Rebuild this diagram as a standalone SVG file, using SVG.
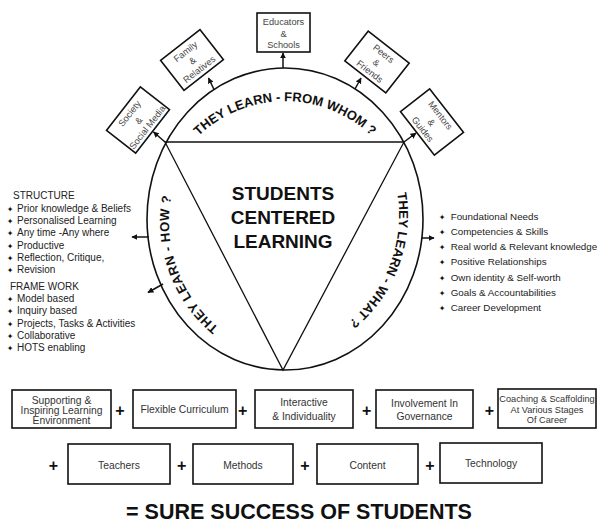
<svg xmlns="http://www.w3.org/2000/svg" width="600" height="525" viewBox="0 0 600 525">
<style>
.bx{fill:#fff;stroke:#111;stroke-width:1.6}
.tb{font-family:"Liberation Sans",Arial,sans-serif;font-size:9.2px;fill:#444;text-anchor:middle}
.arc{font-family:"Liberation Sans",Arial,sans-serif;font-weight:bold;font-size:13px;fill:#111}
.lst{font-family:"Liberation Sans",Arial,sans-serif;font-size:10px;fill:#222}
.lr{font-size:9.8px}
.bul{font-family:"DejaVu Sans",sans-serif;font-size:8px;fill:#111;text-anchor:middle}
.bt{font-family:"Liberation Sans",Arial,sans-serif;font-size:10.3px;fill:#333;text-anchor:middle}
.bs{font-size:9.2px}
.pl{font-family:"Liberation Sans",Arial,sans-serif;font-size:16px;font-weight:bold;fill:#111;text-anchor:middle}
.ln{fill:none;stroke:#111;stroke-width:1.5}
</style>
<defs>
<marker id="ah" viewBox="0 0 10 10" refX="9" refY="5" markerWidth="4" markerHeight="4" orient="auto" markerUnits="strokeWidth">
<path d="M0,0 L10,5 L0,10 z" fill="#111"/>
</marker>
<path id="arcTop" d="M 166 188 A 125 125 0 0 1 404 188"/>
<path id="arcLeft" d="M 218.8 327.7 A 137 137 0 0 1 237.5 103.4"/>
<path id="arcRight" d="M 397.3 193.1 A 139 139 0 0 1 307.5 345.6"/>
</defs>
<rect width="600" height="525" fill="#fff"/>

<g id="hub">
<ellipse cx="285" cy="219" rx="138" ry="151" fill="#fff" stroke="#111" stroke-width="1.6"/>
<polygon points="165,142 404,142 283,370" fill="none" stroke="#111" stroke-width="1.3"/>
<g font-family="'Liberation Sans',Arial,sans-serif" font-weight="bold" font-size="19" fill="#111" text-anchor="middle">
<text x="283" y="200">STUDENTS</text>
<text x="283" y="224">CENTERED</text>
<text x="283" y="248">LEARNING</text>
</g>
<text class="arc"><textPath href="#arcTop" startOffset="50%" text-anchor="middle">THEY LEARN - FROM WHOM ?</textPath></text>
<text class="arc" letter-spacing="0.5"><textPath href="#arcLeft">THEY LEARN - HOW ?</textPath></text>
<text class="arc"><textPath href="#arcRight">THEY LEARN - WHAT ?</textPath></text>
</g>

<g id="connectors">
<line class="ln" x1="283" y1="68" x2="283" y2="53" marker-end="url(#ah)"/>
<line class="ln" x1="214" y1="89.5" x2="208.5" y2="78" marker-end="url(#ah)"/>
<line class="ln" x1="355" y1="89" x2="361" y2="78" marker-end="url(#ah)"/>
<line class="ln" x1="165" y1="142" x2="153.5" y2="132" marker-end="url(#ah)"/>
<line class="ln" x1="404" y1="142" x2="416" y2="133" marker-end="url(#ah)"/>
<line class="ln" x1="149" y1="237" x2="132" y2="237" marker-end="url(#ah)"/>
<line class="ln" x1="163" y1="284" x2="148" y2="292.5" marker-end="url(#ah)"/>
<line class="ln" x1="421" y1="238" x2="434" y2="238" marker-end="url(#ah)"/>
</g>

<g id="educators" transform="translate(283.5,32.5)">
<rect class="bx" x="-26.5" y="-19.5" width="53" height="39" stroke-width="2"/>
<text class="tb" y="-7.5">Educators</text><text class="tb" y="4">&amp;</text><text class="tb" y="15">Schools</text>
</g>
<g id="family" transform="translate(192,60) rotate(-38)">
<rect class="bx" x="-25" y="-19" width="50" height="38"/>
<text class="tb" y="-7.5">Family</text><text class="tb" y="4">&amp;</text><text class="tb" y="15">Relatives</text>
</g>
<g id="peers" transform="translate(377,62) rotate(38)">
<rect class="bx" x="-26" y="-19" width="52" height="38"/>
<text class="tb" y="-7.5">Peers</text><text class="tb" y="4">&amp;</text><text class="tb" y="15">Friends</text>
</g>
<g id="mentors" transform="translate(432,122) rotate(52)">
<rect class="bx" x="-27.5" y="-18.5" width="55" height="37"/>
<text class="tb" y="-7.5">Mentors</text><text class="tb" y="4">&amp;</text><text class="tb" y="15">Guides</text>
</g>
<g id="society" transform="translate(138,120) rotate(-52)">
<rect class="bx" x="-27.5" y="-18.5" width="55" height="37"/>
<text class="tb" y="-7.5">Society</text><text class="tb" y="4">&amp;</text><text class="tb" y="15">Social Media</text>
</g>

<g id="how-list">
<text class="lst" x="13" y="198.5">STRUCTURE</text>
<text class="bul" x="10" y="211.5">✦</text><text class="lst" x="17" y="211.5">Prior knowledge &amp; Beliefs</text>
<text class="bul" x="10" y="224.2">✦</text><text class="lst" x="17" y="224.2">Personalised Learning</text>
<text class="bul" x="10" y="236.2">✦</text><text class="lst" x="17" y="236.2">Any time -Any where</text>
<text class="bul" x="10" y="248.5">✦</text><text class="lst" x="17" y="248.5">Productive</text>
<text class="bul" x="10" y="260.5">✦</text><text class="lst" x="17" y="260.5">Reflection, Critique,</text>
<text class="bul" x="10" y="272.8">✦</text><text class="lst" x="17" y="272.8">Revision</text>
<text class="lst" x="10" y="289.5">FRAME WORK</text>
<text class="bul" x="10" y="301.5">✦</text><text class="lst" x="17" y="301.5">Model based</text>
<text class="bul" x="10" y="314.2">✦</text><text class="lst" x="17" y="314.2">Inquiry based</text>
<text class="bul" x="10" y="326.5">✦</text><text class="lst" x="17" y="326.5">Projects, Tasks &amp; Activities</text>
<text class="bul" x="10" y="339.2">✦</text><text class="lst" x="17" y="339.2">Collaborative</text>
<text class="bul" x="10" y="351.2">✦</text><text class="lst" x="17" y="351.2">HOTS enabling</text>
</g>

<g id="what-list">
<text class="bul" x="442" y="219.5">✦</text><text class="lst lr" x="450.7" y="219.5">Foundational Needs</text>
<text class="bul" x="442" y="235.2">✦</text><text class="lst lr" x="450.7" y="235.2">Competencies &amp; Skills</text>
<text class="bul" x="442" y="250.2">✦</text><text class="lst lr" x="450.7" y="250.2">Real world &amp; Relevant knowledge</text>
<text class="bul" x="442" y="265.2">✦</text><text class="lst lr" x="450.7" y="265.2">Positive Relationships</text>
<text class="bul" x="442" y="280.8">✦</text><text class="lst lr" x="450.7" y="280.8">Own identity &amp; Self-worth</text>
<text class="bul" x="442" y="295.8">✦</text><text class="lst lr" x="450.7" y="295.8">Goals &amp; Accountabilities</text>
<text class="bul" x="442" y="310.8">✦</text><text class="lst lr" x="450.7" y="310.8">Career Development</text>
</g>

<g id="supporting">
<rect class="bx" x="12" y="390" width="99" height="38"/>
<text class="bt" x="61.5" y="403.7">Supporting &amp;</text><text class="bt" x="61.5" y="414.2">Inspiring Learning</text><text class="bt" x="61.5" y="424.4">Environment</text>
</g>
<g id="flexible">
<rect class="bx" x="133" y="390" width="103" height="38"/>
<text class="bt" x="184.5" y="412.7">Flexible Curriculum</text>
</g>
<g id="interactive">
<rect class="bx" x="255" y="390" width="98" height="38"/>
<text class="bt" x="304" y="405.5">Interactive</text><text class="bt" x="304" y="420">&amp; Individuality</text>
</g>
<g id="involvement">
<rect class="bx" x="376" y="390" width="97" height="38"/>
<text class="bt" x="424.5" y="406.8">Involvement In</text><text class="bt" x="424.5" y="420.2">Governance</text>
</g>
<g id="coaching">
<rect class="bx" x="498" y="389" width="98" height="39"/>
<text class="bt bs" x="547" y="402.3">Coaching &amp; Scaffolding</text><text class="bt bs" x="547" y="412.5">At Various Stages</text><text class="bt bs" x="547" y="422.7">Of Career</text>
</g>
<g id="teachers">
<rect class="bx" x="68" y="444" width="102" height="40"/>
<text class="bt" x="119" y="468.7">Teachers</text>
</g>
<g id="methods">
<rect class="bx" x="193" y="444" width="100" height="40"/>
<text class="bt" x="243" y="468.7">Methods</text>
</g>
<g id="content">
<rect class="bx" x="317" y="444" width="101" height="40"/>
<text class="bt" x="367.5" y="468.7">Content</text>
</g>
<g id="technology">
<rect class="bx" x="440" y="443" width="102" height="40"/>
<text class="bt" x="491" y="466.7">Technology</text>
</g>

<g id="plus-signs">
<text class="pl" x="120" y="415.5">+</text>
<text class="pl" x="242.7" y="415.5">+</text>
<text class="pl" x="366.7" y="415.5">+</text>
<text class="pl" x="489.3" y="415.5">+</text>
<text class="pl" x="53.3" y="470.5">+</text>
<text class="pl" x="181.7" y="470.5">+</text>
<text class="pl" x="305" y="470.5">+</text>
<text class="pl" x="430" y="470.5">+</text>
</g>

<g id="result">
<text x="299" y="518.5" font-family="'Liberation Sans',Arial,sans-serif" font-weight="bold" font-size="21.5" fill="#111" text-anchor="middle">= SURE SUCCESS OF STUDENTS</text>
</g>
</svg>
